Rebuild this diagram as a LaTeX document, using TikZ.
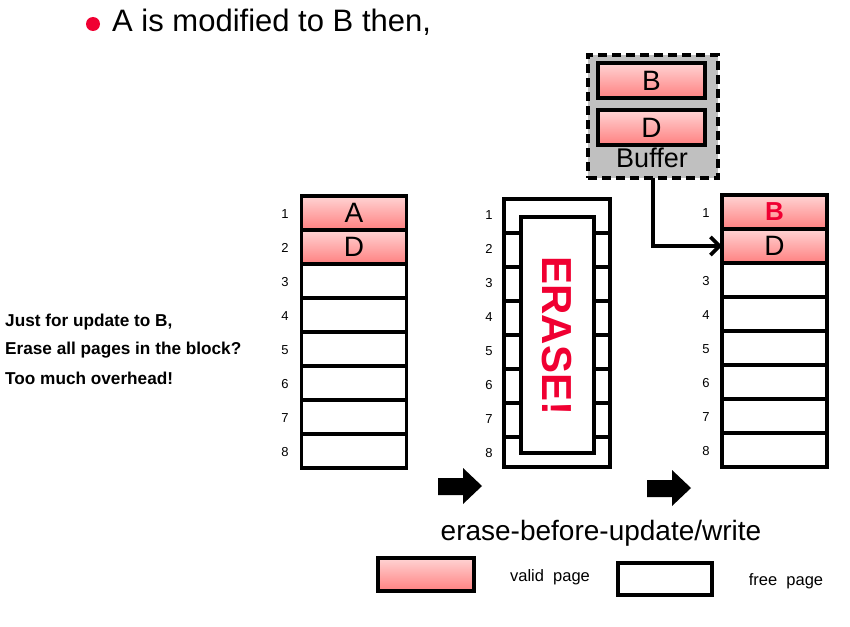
\documentclass[tikz,border=0pt]{standalone}
\usepackage{fontspec}
\setmainfont{Liberation Sans}
\usetikzlibrary{arrows.meta}
\definecolor{erred}{RGB}{240,0,50}
\definecolor{pinktop}{RGB}{255,212,212}
\definecolor{pinkbot}{RGB}{255,128,128}
\definecolor{bufgray}{RGB}{192,192,192}
\begin{document}
\begin{tikzpicture}[x=1pt,y=-1pt,
 page/.style={draw=black,line width=3.3pt,minimum width=105pt,minimum height=34pt,inner sep=0pt,outer sep=0pt,font=\fontsize{28}{30}\selectfont},
 valid/.style={page,top color=pinktop,bottom color=pinkbot},
 free/.style={page,fill=white},
 num/.style={inner sep=0pt,font=\fontsize{13}{14}\selectfont},
 side/.style={inner sep=0pt,anchor=west,font=\bfseries\fontsize{17.2}{19}\selectfont},
 legtext/.style={inner sep=0pt,font=\fontsize{16.5}{18}\selectfont},
]
\useasboundingbox (0,0) rectangle (850,626);
% title
\node[circle,fill=erred,inner sep=0pt,minimum size=14pt] (bullet) at (93,24) {};
\node[inner sep=0pt,anchor=west,font=\fontsize{31}{34}\selectfont] (title) at (112,22) {A is modified to B then,};
% side text
\node[side] (s1) at (5,322) {Just for update to B,};
\node[side] (s2) at (5,350) {Erase all pages in the block?};
\node[side] (s3) at (5,378) {Too much overhead!};
% left block
\foreach \i/\t/\s in {1/A/valid,2/D/valid,3//free,4//free,5//free,6//free,7//free,8//free}{
  \node[\s] (L\i) at (354,{196+34*(\i-1)+17}) {\t};
  \node[num] (Ln\i) at (285,{197+34*(\i-1)+17}) {\i};
}
% middle block
\node[draw=black,line width=3.1pt,fill=white,minimum width=106pt,minimum height=268pt,inner sep=0pt,outer sep=0pt] (M) at (557,333) {};
\node[draw=black,line width=3.1pt,fill=white,minimum width=73pt,minimum height=236pt,inner sep=0pt,outer sep=0pt] (MI) at (557.5,335) {};
\foreach \k in {1,...,7}{
  \draw[line width=3.1pt] (M.west |- 0,{199+34*\k}) -- (MI.west |- 0,{199+34*\k});
  \draw[line width=3.1pt] (MI.east |- 0,{199+34*\k}) -- (M.east |- 0,{199+34*\k});
}
\foreach \i in {1,...,8}{
  \node[num] (Mn\i) at (489,{198+34*(\i-1)+17}) {\i};
}
\node[rotate=-90,text=erred,inner sep=0pt,font=\bfseries\fontsize{42}{44}\selectfont] (erase) at (557,336) {ERASE!};
% right block
\node[valid,text=erred,font=\bfseries\fontsize{26}{28}\selectfont] (R1) at (774.5,{195+17}) {B};
\node[valid] (R2) at (774.5,{195+34+17}) {D};
\foreach \i in {3,...,8}{
  \node[free] (R\i) at (774.5,{195+34*(\i-1)+17}) {};
}
\foreach \i in {1,3,4,5,6,7,8}{
  \node[num] (Rn\i) at (706,{196+34*(\i-1)+17}) {\i};
}
% buffer
\node[draw=black,fill=bufgray,line width=3.3pt,dash pattern=on 9pt off 5pt,minimum width=130pt,minimum height=123pt,inner sep=0pt,outer sep=0pt] (Buf) at (653,116.5) {};
\node[valid,minimum width=107pt,minimum height=35pt] (BB) at (651.5,80.5) {B};
\node[valid,minimum width=107pt,minimum height=35pt] (BD) at (651.5,127.5) {D};
\node[inner sep=0pt,font=\fontsize{27}{29}\selectfont] (buflabel) at (652,158) {Buffer};
\draw[line width=3.6pt,-{Straight Barb[length=9pt,width=18pt,line width=3.6pt]}] (Buf.south) |- (R2.west);
% block arrows
\fill (438,478) -- (463,478) -- (463,468) -- (482,486) -- (463,504) -- (463,495) -- (438,495) -- cycle;
\fill (647,480) -- (672,480) -- (672,470) -- (691,488) -- (672,506) -- (672,497) -- (647,497) -- cycle;
\node[inner sep=0pt,font=\fontsize{28}{30}\selectfont] (ebu) at (601,533) {erase-before-update/write};
% legend
\node[valid,minimum width=96pt,minimum height=33pt] (legvalid) at (426,574.5) {};
\node[legtext] (legvalidt) at (550,577) {valid\ \ page};
\node[free,minimum width=94pt,minimum height=32pt] (legfree) at (665,579) {};
\node[legtext] (legfreet) at (786,581) {free\ \ page};
\end{tikzpicture}
\end{document}
